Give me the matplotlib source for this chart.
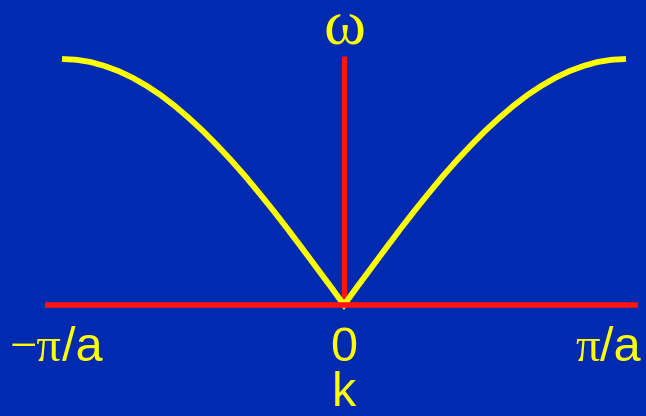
import matplotlib
matplotlib.use("Agg")
import matplotlib.pyplot as plt

# Wave vector k in units of pi/a, and frequency omega (normalised to its maximum)
k_values = [-1.00, -0.95, -0.90, -0.85, -0.80, -0.75, -0.70, -0.65, -0.60, -0.55,
            -0.50, -0.45, -0.40, -0.35, -0.30, -0.25, -0.20, -0.15, -0.10, -0.05,
            0.00, 0.05, 0.10, 0.15, 0.20, 0.25, 0.30, 0.35, 0.40, 0.45,
            0.50, 0.55, 0.60, 0.65, 0.70, 0.75, 0.80, 0.85, 0.90, 0.95, 1.00]
omega_values = [1.000, 0.997, 0.988, 0.972, 0.951, 0.924, 0.891, 0.853, 0.809, 0.760,
                0.707, 0.649, 0.588, 0.523, 0.454, 0.383, 0.309, 0.233, 0.156, 0.079,
                0.000, 0.079, 0.156, 0.233, 0.309, 0.383, 0.454, 0.523, 0.588, 0.649,
                0.707, 0.760, 0.809, 0.853, 0.891, 0.924, 0.951, 0.972, 0.988, 0.997, 1.000]

tick_positions = [-1.0, 0.0, 1.0]
tick_labels = ["\u2212\u03c0/a", "0", "\u03c0/a"]
x_axis_label = "k"
y_axis_label = "\u03c9"

BG = "#002AAF"
RED = "#FF1414"
YELLOW = "#FFFF00"
SERIF = ["Liberation Serif", "DejaVu Serif"]
SANS = ["Liberation Sans", "DejaVu Sans"]

fig = plt.figure(figsize=(6.46, 4.16), dpi=100, facecolor=BG)
ax = fig.add_axes([0, 0, 1, 1])
ax.set_facecolor(BG)
ax.set_xlim(-1.2199, 1.0709)
ax.set_ylim(-0.4512, 1.2398)
ax.axis("off")

# Dispersion curve
ax.plot(k_values, omega_values, color=YELLOW, lw=4.2, solid_capstyle="butt",
        solid_joinstyle="miter", zorder=3)

# Axes drawn as red lines
ax.plot([0, 0], [0, 1.012], color=RED, lw=3.8, solid_capstyle="butt", zorder=2)
ax.plot([-1.060, 1.0426], [0, 0], color=RED, lw=4.0, solid_capstyle="butt", zorder=4)

# Axis titles
ax.text(0, 1.0569, y_axis_label, color=YELLOW, fontsize=46, family=SERIF,
        ha="center", va="baseline")
ax.text(0, -0.4106, x_axis_label, color=YELLOW, fontsize=35, family=SANS,
        ha="center", va="baseline")

# Tick labels: pi and minus in a serif face, the rest sans
label_y = -0.2276
fig.canvas.draw()
renderer = fig.canvas.get_renderer()
aligns = ["left", "center", "right"]
anchor_px = [10, None, 641]
inv = ax.transData.inverted()
y_px = ax.transData.transform((0, label_y))[1]
for pos, lab, al, apx in zip(tick_positions, tick_labels, aligns, anchor_px):
    if "\u03c0" not in lab:
        ax.text(pos, label_y, lab, color=YELLOW, fontsize=35, family=SANS,
                ha="center", va="baseline")
        continue
    head, tail = lab.split("/")
    tail = "/" + tail
    t1 = ax.text(0, 0, head, color=YELLOW, fontsize=35, family=SERIF,
                 va="baseline", ha="left")
    t2 = ax.text(0, 0, tail, color=YELLOW, fontsize=35, family=SANS,
                 va="baseline", ha="left")
    w1 = t1.get_window_extent(renderer).width
    w2 = t2.get_window_extent(renderer).width
    x0 = apx if al == "left" else apx - w1 - w2
    t1.set_position(inv.transform((x0, y_px)))
    t2.set_position(inv.transform((x0 + w1, y_px)))

fig.savefig("out.png", dpi=100, facecolor=BG)
